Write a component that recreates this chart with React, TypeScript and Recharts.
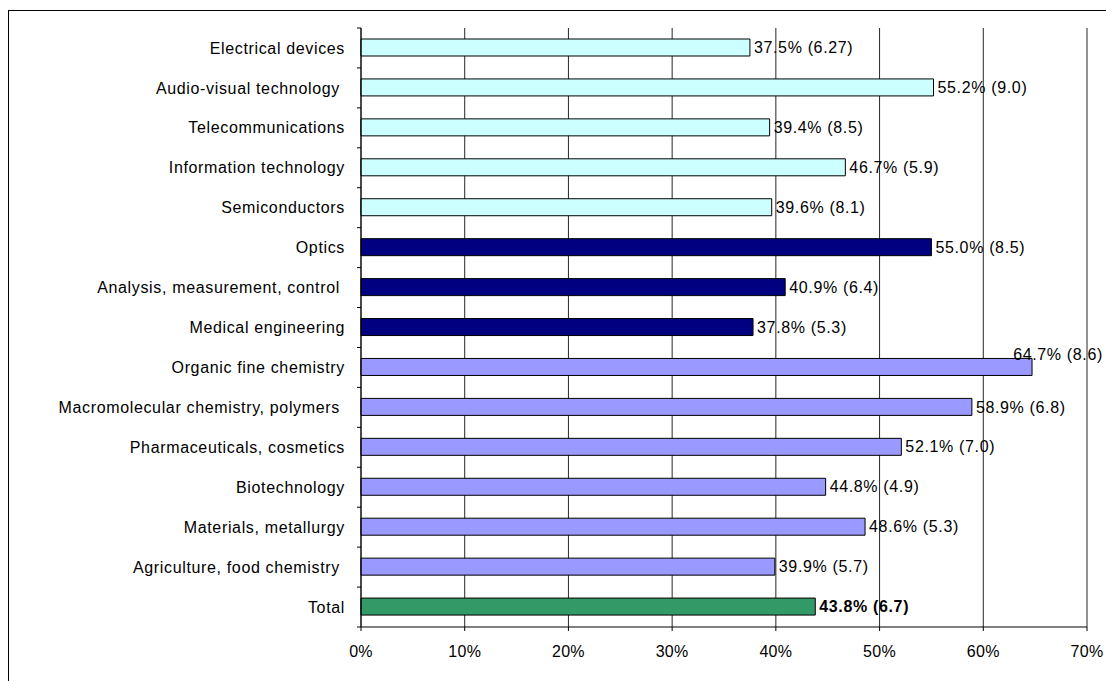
import React from 'react';
import { BarChart, Bar, XAxis, YAxis, CartesianGrid, Cell, LabelList } from 'recharts';

const categories = [
  'Electrical devices',
  'Audio-visual technology ',
  'Telecommunications',
  'Information technology',
  'Semiconductors',
  'Optics',
  'Analysis, measurement, control ',
  'Medical engineering',
  'Organic fine chemistry',
  'Macromolecular chemistry, polymers ',
  'Pharmaceuticals, cosmetics',
  'Biotechnology',
  'Materials, metallurgy',
  'Agriculture, food chemistry ',
  'Total',
];
const shares = [37.5, 55.2, 39.4, 46.7, 39.6, 55.0, 40.9, 37.8, 64.7, 58.9, 52.1, 44.8, 48.6, 39.9, 43.8];
const bracketValues = ['6.27', '9.0', '8.5', '5.9', '8.1', '8.5', '6.4', '5.3', '8.6', '6.8', '7.0', '4.9', '5.3', '5.7', '6.7'];
const groups = ['elec', 'elec', 'elec', 'elec', 'elec', 'instr', 'instr', 'instr', 'chem', 'chem', 'chem', 'chem', 'chem', 'chem', 'total'];
const xTicks = [0, 10, 20, 30, 40, 50, 60, 70];

const groupColors: Record<string, string> = {
  elec: '#CCFFFF',
  instr: '#000080',
  chem: '#9999FF',
  total: '#339966',
};

const data = categories.map((c, i) => ({
  name: c,
  value: shares[i],
  extra: bracketValues[i],
  group: groups[i],
}));

const W = 1098;
const H = 671;
const M = { top: 18, right: 19, bottom: 24, left: 0 };
const X_AXIS_H = 30;
const Y_AXIS_W = 353;
const plotH = H - M.top - M.bottom - X_AXIS_H;
const halfBand = plotH / categories.length / 2;
const FONT = '"Liberation Sans", Arial, sans-serif';
const FS = 16;
const LS = 0.65;

const YTick = (props: any) => {
  const { x, y, payload, index } = props;
  const isLast = index === categories.length - 1;
  return (
    <g>
      <line x1={x - 4} x2={x} y1={y - halfBand} y2={y - halfBand} stroke="#000" />
      {isLast && <line x1={x - 4} x2={x} y1={y + halfBand} y2={y + halfBand} stroke="#000" />}
      <text
        x={x - 16}
        y={y}
        dy="0.35em"
        textAnchor="end"
        xmlSpace="preserve"
        style={{ whiteSpace: 'pre', letterSpacing: LS }}
        fontFamily={FONT}
        fontSize={FS}
        fill="#000"
      >
        {payload.value}
      </text>
    </g>
  );
};

const ValueLabel = (props: any) => {
  const { x, y, width, height, index } = props;
  const d = data[index];
  const txt = `${d.value.toFixed(1)}% (${d.extra})`;
  const bold = d.group === 'total';
  const estW = txt.length * 8.3;
  let lx = x + width + 4;
  let ly = y + height / 2;
  let anchor: 'start' | 'end' = 'start';
  const limit = W - 3;
  if (lx + estW > limit) {
    lx = limit;
    anchor = 'end';
    ly -= 13;
  }
  return (
    <text
      x={lx}
      y={ly}
      dy="0.35em"
      textAnchor={anchor}
      fontFamily={FONT}
      fontSize={FS}
      style={{ letterSpacing: LS }}
      fontWeight={bold ? 'bold' : 'normal'}
      fill="#000"
    >
      {txt}
    </text>
  );
};

export default function App() {
  return (
    <div style={{ width: 1106, height: 681, paddingLeft: 8, paddingTop: 10, boxSizing: 'border-box', overflow: 'hidden' }}>
      <style>{'html,body{margin:0;padding:0;overflow:hidden;}'}</style>
      <div style={{ position: 'relative', width: W, height: H }}>
        <BarChart
          width={W}
          height={H}
          data={data}
          layout="vertical"
          margin={M}
          barSize={17}
        >
          <CartesianGrid horizontal={false} vertical={true} stroke="#000" strokeOpacity={0.85} />
          <XAxis
            type="number"
            domain={[0, 70]}
            ticks={xTicks}
            interval={0}
            tickFormatter={(v: number) => `${v}%`}
            height={X_AXIS_H}
            axisLine={{ stroke: '#000' }}
            tickLine={{ stroke: '#000' }}
            tickSize={4}
            tickMargin={15}
            tick={{ fill: '#000', fontSize: FS, fontFamily: FONT, style: { letterSpacing: 0.3 } }}
          />
          <YAxis
            type="category"
            dataKey="name"
            width={Y_AXIS_W}
            interval={0}
            axisLine={{ stroke: '#000' }}
            tickLine={false}
            tickSize={0}
            tickMargin={0}
            tick={<YTick />}
          />
          <Bar dataKey="value" isAnimationActive={false} stroke="#000" strokeWidth={1}>
            {data.map((d, i) => (
              <Cell key={i} fill={groupColors[d.group]} />
            ))}
            <LabelList dataKey="value" content={<ValueLabel />} />
          </Bar>
        </BarChart>
        <div
          style={{
            position: 'absolute',
            left: 0,
            top: 0,
            width: W + 10,
            height: H + 10,
            borderTop: '1px solid #000',
            borderLeft: '1px solid #000',
            pointerEvents: 'none',
          }}
        />
      </div>
    </div>
  );
}
